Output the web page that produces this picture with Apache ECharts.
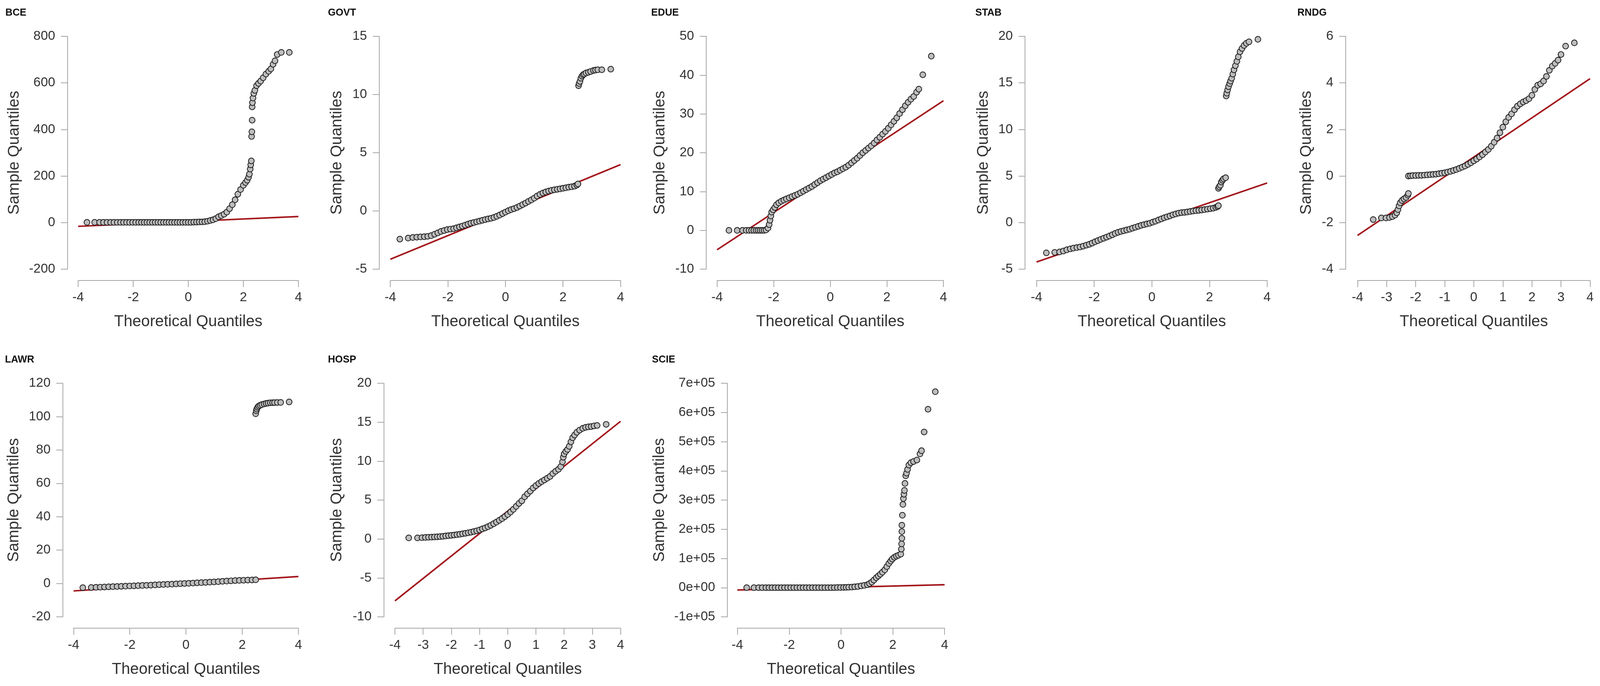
<!DOCTYPE html>
<html>
<head>
<meta charset="utf-8">
<script src="https://cdn.jsdelivr.net/npm/echarts@6/dist/echarts.min.js"></script>
<style>
html,body{margin:0;padding:0;background:#fff;overflow:hidden;}
#c{width:100vw;height:100vh;}
</style>
</head>
<body>
<div id="c"></div>
<script>
// ---- data: [theoretical quantile, sample quantile] ----
const panelNames = ['BCE','GOVT','EDUE','STAB','RNDG','LAWR','HOSP','SCIE'];
const xLabel = 'Theoretical Quantiles';
const yLabel = 'Sample Quantiles';

const bcePts = [[-3.68,1],[-3.40,1],[-3.22,1],[-3.08,1],[-2.95,1],[-2.82,1],[-2.7,1],[-2.58,1],[-2.46,1],[-2.35,1],[-2.24,1],[-2.13,1],[-2.02,1],[-1.91,1],[-1.8,1],[-1.7,1],[-1.6,1],[-1.5,1],[-1.4,1],[-1.3,1],[-1.2,1],[-1.1,1],[-1.0,1],[-0.9,1],[-0.8,1],[-0.7,1],[-0.6,1],[-0.5,1],[-0.4,1],[-0.3,1],[-0.2,1],[-0.1,1],[0,1],[0.1,1],[0.2,2],[0.3,2],[0.4,3],[0.5,3],[0.6,4],[0.7,6],[0.8,9],[0.9,12],[1.0,17],[1.1,25],[1.2,30],[1.3,36],[1.4,45],[1.5,60],[1.6,77],[1.7,98],[1.8,122],[1.9,142],[2.0,160],[2.08,172],[2.14,182],[2.19,195],[2.22,208],[2.25,230],[2.27,248],[2.29,265],[2.30,370],[2.31,390],[2.32,440],[2.32,497],[2.33,515],[2.35,535],[2.38,555],[2.42,568],[2.48,588],[2.55,598],[2.63,608],[2.72,622],[2.82,638],[2.92,650],[3.0,660],[3.08,680],[3.15,695],[3.23,722],[3.38,731],[3.67,731]];
const bceLine = [[-4,-16],[4,26]];

const govtPts = [[-3.67,-2.42],[-3.38,-2.33],[-3.22,-2.28],[-3.08,-2.25],[-2.95,-2.23],[-2.82,-2.21],[-2.7,-2.18],[-2.58,-2.12],[-2.46,-2.0],[-2.35,-1.88],[-2.24,-1.76],[-2.13,-1.68],[-2.02,-1.6],[-1.91,-1.56],[-1.8,-1.52],[-1.7,-1.45],[-1.6,-1.37],[-1.5,-1.3],[-1.4,-1.22],[-1.3,-1.13],[-1.2,-1.05],[-1.1,-0.99],[-1.0,-0.93],[-0.9,-0.87],[-0.8,-0.8],[-0.7,-0.74],[-0.6,-0.68],[-0.5,-0.63],[-0.4,-0.56],[-0.3,-0.46],[-0.2,-0.35],[-0.1,-0.22],[0,-0.1],[0.1,0.02],[0.2,0.12],[0.3,0.2],[0.4,0.3],[0.5,0.42],[0.6,0.55],[0.7,0.68],[0.8,0.82],[0.9,0.95],[1.0,1.1],[1.1,1.28],[1.2,1.42],[1.3,1.54],[1.4,1.63],[1.5,1.71],[1.6,1.77],[1.7,1.82],[1.8,1.86],[1.9,1.9],[2.0,1.95],[2.1,1.99],[2.2,2.04],[2.3,2.08],[2.4,2.13],[2.48,2.22],[2.52,2.32],[2.54,10.76],[2.56,10.95],[2.59,11.13],[2.62,11.4],[2.66,11.58],[2.7,11.7],[2.74,11.76],[2.8,11.85],[2.88,11.91],[2.96,11.98],[3.06,12.07],[3.13,12.1],[3.21,12.13],[3.35,12.13],[3.66,12.18]];
const govtLine = [[-4,-4.15],[4,3.98]];

const eduePts = [[-3.58,0],[-3.29,0],[-3.1,0],[-2.97,0],[-2.87,0],[-2.78,0],[-2.7,0],[-2.62,0],[-2.55,0],[-2.48,0],[-2.41,0],[-2.34,0],[-2.27,0.1],[-2.2,0.6],[-2.16,1.5],[-2.13,2.6],[-2.1,3.7],[-2.07,4.7],[-2.02,5.3],[-1.96,5.9],[-1.9,6.6],[-1.82,7.1],[-1.73,7.5],[-1.64,7.8],[-1.55,8.1],[-1.45,8.4],[-1.35,8.7],[-1.25,9.0],[-1.15,9.3],[-1.05,9.7],[-0.95,10.1],[-0.85,10.5],[-0.75,10.9],[-0.65,11.3],[-0.55,11.8],[-0.45,12.3],[-0.35,12.8],[-0.25,13.2],[-0.15,13.6],[-0.05,14.0],[0.05,14.4],[0.15,14.8],[0.25,15.1],[0.35,15.5],[0.45,15.9],[0.55,16.3],[0.65,16.8],[0.75,17.4],[0.85,18.0],[0.95,18.6],[1.05,19.3],[1.15,20.0],[1.25,20.6],[1.35,21.2],[1.45,21.8],[1.55,22.5],[1.65,23.3],[1.75,24.0],[1.85,24.8],[1.95,25.5],[2.05,26.3],[2.15,27.2],[2.25,28.1],[2.35,29.0],[2.45,30.1],[2.55,31.1],[2.65,32.1],[2.75,33.0],[2.85,33.8],[2.95,34.5],[3.05,35.6],[3.13,36.4],[3.27,40.1],[3.57,44.9]];
const edueLine = [[-4,-5.0],[4,33.4]];

const stabPts = [[-3.66,-3.25],[-3.37,-3.2],[-3.2,-3.15],[-3.07,-3.05],[-2.95,-2.92],[-2.83,-2.82],[-2.72,-2.74],[-2.6,-2.68],[-2.49,-2.62],[-2.38,-2.53],[-2.27,-2.42],[-2.17,-2.33],[-2.07,-2.2],[-1.97,-2.06],[-1.87,-1.93],[-1.77,-1.8],[-1.67,-1.68],[-1.57,-1.56],[-1.47,-1.44],[-1.37,-1.3],[-1.27,-1.16],[-1.17,-1.04],[-1.07,-0.95],[-0.97,-0.87],[-0.87,-0.79],[-0.77,-0.71],[-0.67,-0.6],[-0.57,-0.5],[-0.47,-0.4],[-0.37,-0.3],[-0.27,-0.22],[-0.17,-0.14],[-0.07,-0.07],[0.03,0.05],[0.13,0.15],[0.23,0.28],[0.33,0.4],[0.43,0.52],[0.53,0.62],[0.63,0.72],[0.73,0.84],[0.83,0.93],[0.93,1.02],[1.03,1.07],[1.13,1.1],[1.23,1.14],[1.33,1.19],[1.43,1.24],[1.53,1.28],[1.63,1.31],[1.73,1.35],[1.83,1.4],[1.93,1.45],[2.03,1.5],[2.13,1.55],[2.22,1.63],[2.28,1.72],[2.31,1.82],[2.31,3.68],[2.34,3.85],[2.38,4.02],[2.41,4.36],[2.45,4.55],[2.49,4.7],[2.56,4.82],[2.58,13.6],[2.6,13.9],[2.63,14.25],[2.66,14.6],[2.7,14.93],[2.73,15.2],[2.77,15.5],[2.81,15.95],[2.85,16.4],[2.9,16.85],[2.95,17.32],[3.0,17.8],[3.06,18.34],[3.13,18.7],[3.2,19.02],[3.28,19.25],[3.37,19.41],[3.68,19.68]];
const stabLine = [[-4,-4.23],[4,4.25]];

const rndgPts = [[-3.46,-1.87],[-3.18,-1.8],[-3.02,-1.8],[-2.9,-1.78],[-2.8,-1.74],[-2.71,-1.68],[-2.65,-1.58],[-2.61,-1.44],[-2.57,-1.28],[-2.53,-1.15],[-2.47,-1.05],[-2.4,-0.98],[-2.33,-0.92],[-2.27,-0.82],[-2.25,-0.75],[-2.25,0.0],[-2.18,0.01],[-2.1,0.02],[-2.0,0.02],[-1.9,0.03],[-1.8,0.03],[-1.7,0.04],[-1.6,0.05],[-1.5,0.06],[-1.4,0.07],[-1.3,0.08],[-1.2,0.1],[-1.1,0.12],[-1.0,0.14],[-0.9,0.17],[-0.8,0.2],[-0.7,0.24],[-0.6,0.28],[-0.5,0.33],[-0.4,0.38],[-0.3,0.43],[-0.2,0.5],[-0.1,0.57],[0,0.65],[0.1,0.73],[0.2,0.82],[0.3,0.92],[0.4,1.03],[0.5,1.14],[0.6,1.28],[0.7,1.45],[0.8,1.63],[0.9,1.86],[1.0,2.1],[1.1,2.33],[1.2,2.52],[1.3,2.67],[1.4,2.85],[1.5,3.0],[1.6,3.1],[1.7,3.18],[1.8,3.24],[1.9,3.32],[2.0,3.47],[2.1,3.72],[2.2,3.9],[2.3,3.96],[2.4,4.08],[2.5,4.28],[2.6,4.54],[2.7,4.72],[2.8,4.84],[2.9,4.98],[3.0,5.22],[3.16,5.58],[3.46,5.72]];
const rndgLine = [[-4,-2.55],[4,4.18]];

const lawrPts = [[-3.67,-2.5],[-3.37,-2.4],[-3.2,-2.3],[-3.05,-2.2],[-2.9,-2.1],[-2.75,-2.0],[-2.6,-1.9],[-2.45,-1.8],[-2.3,-1.7],[-2.15,-1.6],[-2.0,-1.5],[-1.85,-1.4],[-1.7,-1.3],[-1.55,-1.2],[-1.4,-1.1],[-1.25,-1.0],[-1.1,-0.85],[-0.95,-0.7],[-0.8,-0.6],[-0.65,-0.5],[-0.5,-0.4],[-0.35,-0.25],[-0.2,-0.1],[-0.05,0],[0.1,0.1],[0.25,0.25],[0.4,0.4],[0.55,0.5],[0.7,0.65],[0.85,0.8],[1.0,0.95],[1.15,1.1],[1.3,1.3],[1.45,1.45],[1.6,1.6],[1.75,1.75],[1.9,1.85],[2.05,1.95],[2.2,2.05],[2.35,2.1],[2.48,2.2],[2.48,101.7],[2.5,103.5],[2.52,104.6],[2.55,105.6],[2.59,106.3],[2.64,106.8],[2.7,107.2],[2.78,107.6],[2.85,107.9],[2.92,108.1],[3.0,108.3],[3.08,108.35],[3.15,108.4],[3.25,108.45],[3.37,108.5],[3.67,108.8]];
const lawrLine = [[-4,-4.46],[4,4.19]];

const hospPts = [[-3.51,0.14],[-3.2,0.14],[-3.04,0.17],[-2.92,0.2],[-2.81,0.22],[-2.7,0.24],[-2.6,0.26],[-2.5,0.28],[-2.4,0.31],[-2.3,0.34],[-2.2,0.39],[-2.1,0.43],[-2.0,0.47],[-1.9,0.51],[-1.8,0.56],[-1.7,0.61],[-1.6,0.67],[-1.5,0.73],[-1.4,0.8],[-1.3,0.87],[-1.2,0.96],[-1.1,1.05],[-1.0,1.16],[-0.9,1.3],[-0.8,1.42],[-0.7,1.58],[-0.6,1.76],[-0.5,1.96],[-0.4,2.17],[-0.3,2.4],[-0.2,2.62],[-0.1,2.88],[0,3.15],[0.1,3.46],[0.2,3.8],[0.3,4.19],[0.4,4.57],[0.5,4.9],[0.6,5.42],[0.7,5.8],[0.8,6.15],[0.9,6.55],[1.0,6.85],[1.1,7.13],[1.2,7.36],[1.3,7.58],[1.4,7.8],[1.5,8.03],[1.6,8.4],[1.7,8.7],[1.8,8.95],[1.88,9.3],[1.94,9.9],[1.97,10.5],[2.0,10.93],[2.06,11.25],[2.12,11.5],[2.18,11.9],[2.24,12.47],[2.3,13.0],[2.37,13.35],[2.45,13.7],[2.55,13.98],[2.66,14.21],[2.76,14.34],[2.86,14.4],[2.96,14.44],[3.06,14.52],[3.17,14.58],[3.49,14.72]];
const hospLine = [[-4,-7.95],[4,15.11]];

const sciePts = [[-3.64,0],[-3.36,0],[-3.18,0],[-3.04,0],[-2.9,0],[-2.78,0],[-2.66,0],[-2.54,0],[-2.42,0],[-2.3,0],[-2.18,0],[-2.06,0],[-1.94,0],[-1.82,0],[-1.7,0],[-1.58,0],[-1.46,0],[-1.34,0],[-1.22,0],[-1.1,0],[-0.98,0],[-0.86,0],[-0.74,0],[-0.62,0],[-0.5,0],[-0.38,0],[-0.26,0],[-0.14,500],[-0.02,500],[0.1,800],[0.2,1000],[0.3,1500],[0.42,2000],[0.53,3000],[0.65,4000],[0.78,6000],[0.9,8000],[1.02,10000],[1.1,14000],[1.19,19000],[1.27,26000],[1.36,34000],[1.44,40000],[1.52,46000],[1.6,53000],[1.69,61000],[1.77,72000],[1.85,83000],[1.92,91000],[1.98,98000],[2.06,104000],[2.14,108000],[2.22,111000],[2.31,115000],[2.33,132000],[2.34,150000],[2.35,169000],[2.35,192000],[2.35,214000],[2.37,248000],[2.39,285000],[2.41,305000],[2.43,320000],[2.45,333000],[2.47,357000],[2.5,383000],[2.53,392000],[2.57,405000],[2.62,420000],[2.7,428000],[2.8,432000],[2.93,437000],[3.05,458000],[3.11,469000],[3.21,533000],[3.36,611000],[3.64,671000]];
const scieLine = [[-4,-8000],[4,10000]];

// y-axis ranges and tick steps as printed
const yMins = [-200,-5,-10,-5,-4,-20,-10,-100000];
const yMaxs = [800,15,50,20,6,120,20,700000];
const ySteps = [200,5,10,5,2,20,5,100000];
const xSteps = [2,2,2,2,1,2,1,2];

const allPts = [bcePts,govtPts,eduePts,stabPts,rndgPts,lawrPts,hospPts,sciePts];
const allLines = [bceLine,govtLine,edueLine,stabLine,rndgLine,lawrLine,hospLine,scieLine];

// ---- layout in reference pixels (4177 x 1756), scaled to the real canvas ----
const layout = [
  {left:204, top:93, w:575, h:596, yOff:28, yGap:118, tx:14, ty:20},
  {left:1019,top:93, w:601, h:596, yOff:29, yGap:90,  tx:856, ty:20},
  {left:1872,top:93, w:591, h:596, yOff:28, yGap:100, tx:1700, ty:20},
  {left:2706,top:93, w:602, h:596, yOff:30, yGap:88,  tx:2546, ty:20},
  {left:3544,top:93, w:607, h:596, yOff:31, yGap:82,  tx:3387, ty:20},
  {left:192, top:981,w:587, h:598, yOff:28, yGap:107, tx:13, ty:908},
  {left:1031,top:981,w:589, h:598, yOff:29, yGap:102, tx:856, ty:908},
  {left:1925,top:981,w:541, h:598, yOff:26, yGap:156, tx:1702, ty:908}
];

const FONT = '"Liberation Sans", Arial, sans-serif';
const axisGray = '#a6a6a6';
const textCol = '#333333';

function sciFmt(v){
  if (v === 0) return '0e+00';
  const e = Math.floor(Math.log10(Math.abs(v)) + 1e-9);
  const m = Math.round(v / Math.pow(10, e));
  return m + 'e+' + String(e).padStart(2,'0');
}

const chart = echarts.init(document.getElementById('c'), null, {renderer:'canvas'});
const sx = chart.getWidth() / 4177;
const sy = chart.getHeight() / 1756;
const s = Math.min(sx, sy);

const grid = [], xAxis = [], yAxis = [], series = [], title = [];
panelNames.forEach((nm, i) => {
  const L = layout[i];
  grid.push({left:L.left*sx, top:L.top*sy, width:L.w*sx, height:L.h*sy, containLabel:false});
  title.push({text:nm, left:L.tx*sx, top:L.ty*sy, padding:0,
    textStyle:{fontSize:26*s, fontWeight:'bold', color:'#111', fontFamily:FONT}});
  xAxis.push({
    type:'value', gridIndex:i, min:-4, max:4, interval:xSteps[i], position:'bottom', offset:29*sy,
    axisLine:{show:true, onZero:false, lineStyle:{color:axisGray, width:2*s}},
    axisTick:{show:true, length:17*s, lineStyle:{color:axisGray, width:2*s}},
    splitLine:{show:false},
    axisLabel:{fontSize:34*s, color:textCol, margin:28*s, fontFamily:FONT, showMinLabel:true, showMaxLabel:true},
    name:xLabel, nameLocation:'middle', nameGap:88*s,
    nameTextStyle:{fontSize:41*s, color:textCol, fontFamily:FONT}
  });
  yAxis.push({
    type:'value', gridIndex:i, min:yMins[i], max:yMaxs[i], interval:ySteps[i], position:'left', offset:L.yOff*sx,
    axisLine:{show:true, onZero:false, lineStyle:{color:axisGray, width:2*s}},
    axisTick:{show:true, length:17*s, lineStyle:{color:axisGray, width:2*s}},
    splitLine:{show:false},
    axisLabel:{fontSize:34*s, color:textCol, margin:32*s, fontFamily:FONT, showMinLabel:true, showMaxLabel:true,
      formatter: i === 7 ? sciFmt : null},
    name:yLabel, nameLocation:'middle', nameGap:L.yGap*s, nameRotate:90,
    nameTextStyle:{fontSize:41*s, color:textCol, fontFamily:FONT}
  });
  series.push({
    type:'line', xAxisIndex:i, yAxisIndex:i, data:allLines[i], symbol:'none', z:2,
    lineStyle:{color:'#a3161b', width:4*s}, silent:true
  });
  series.push({
    type:'scatter', xAxisIndex:i, yAxisIndex:i, data:allPts[i], symbol:'circle', symbolSize:15*s, z:3,
    itemStyle:{color:'#bdbdbd', borderColor:'#1a1a1a', borderWidth:2*s, opacity:1}
  });
});

chart.setOption({
  animation:false,
  backgroundColor:'#ffffff',
  title, grid, xAxis, yAxis, series
});
</script>
</body>
</html>
